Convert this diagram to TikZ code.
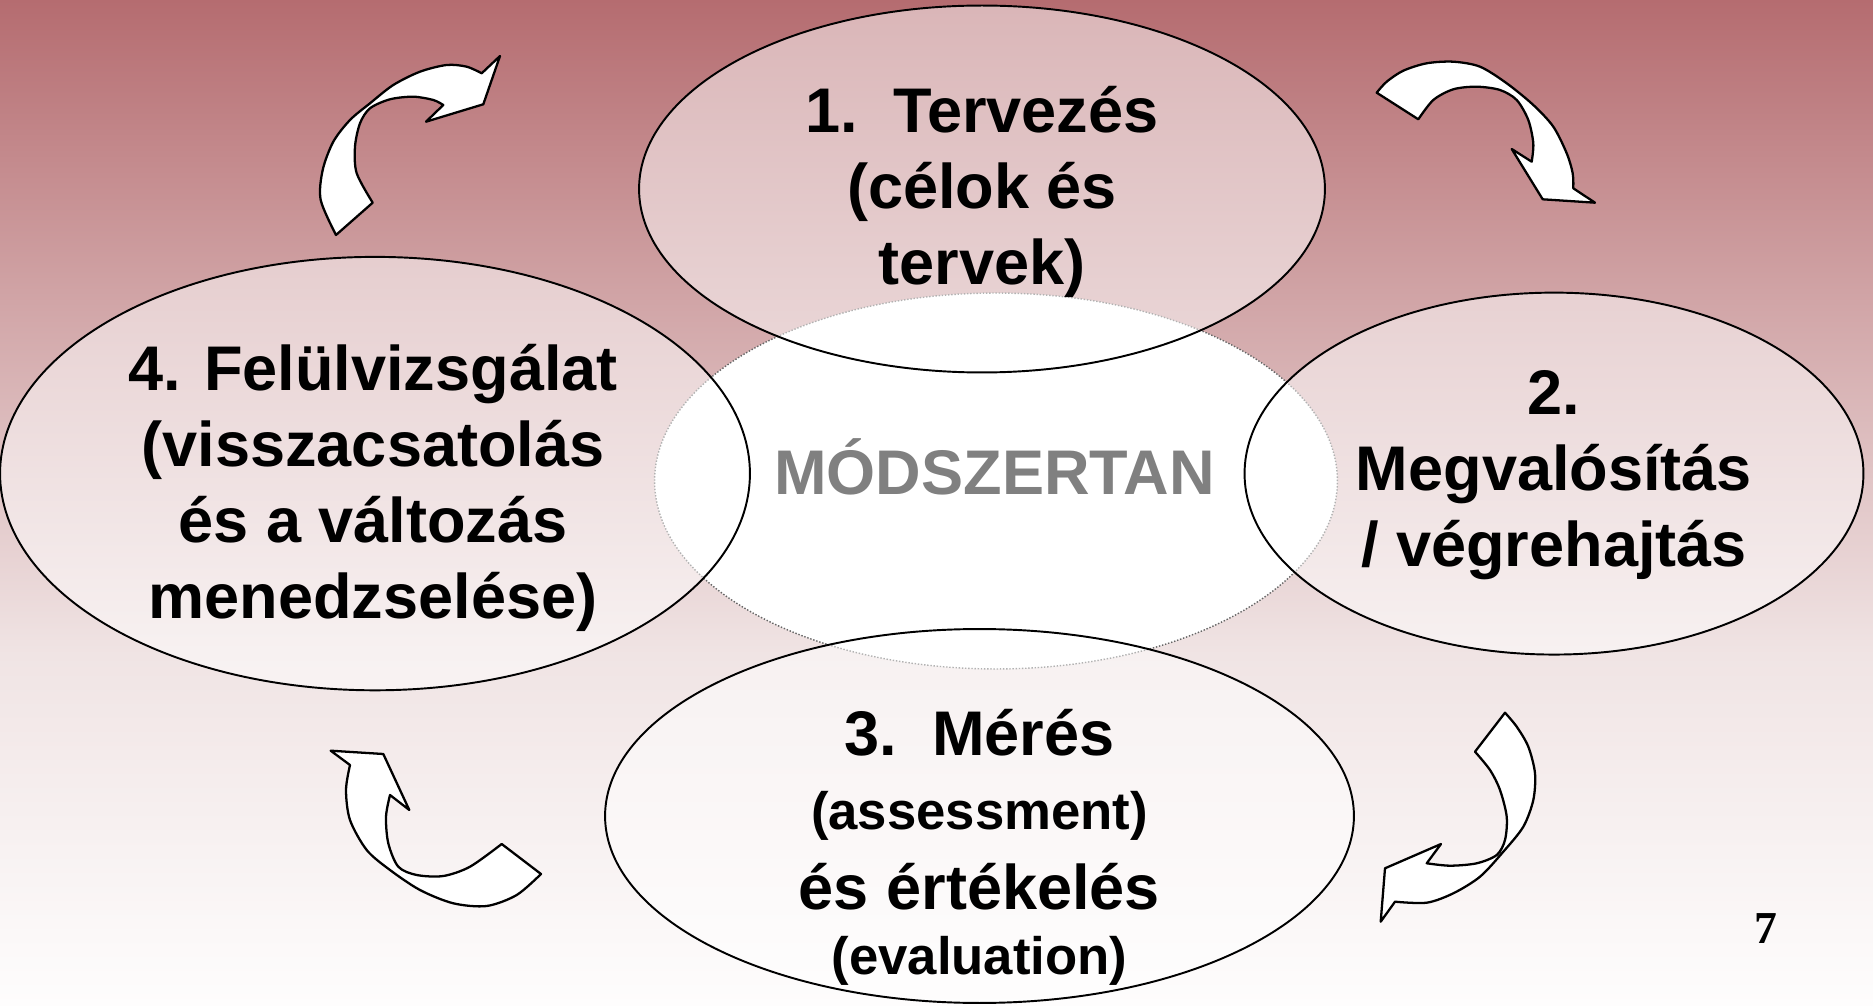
\documentclass[tikz,border=0pt]{standalone}
\usepackage{fontspec}
\setmainfont{Liberation Sans}
\newfontfamily\pagenumfont{Liberation Serif}
\usepackage{xcolor}
\usepackage{tikz}
\usetikzlibrary{shapes.geometric, positioning}

\definecolor{bgtop}{RGB}{181,108,112}
\definecolor{bgmid}{RGB}{209,165,167}
\definecolor{bglow}{RGB}{240,228,228}
\definecolor{bgend}{RGB}{254,253,253}
\definecolor{coregray}{RGB}{128,128,128}
\pgfdeclareverticalshading{slidebg}{100bp}{color(0bp)=(bgend); color(25bp)=(bgend); color(42.5bp)=(bglow); color(60bp)=(bgmid); color(75bp)=(bgtop); color(100bp)=(bgtop)}

\begin{document}
\begin{tikzpicture}[
    x=0.02cm, y=-0.02cm,
    phase/.style={ellipse, draw=black, line width=1.1pt, fill=white, fill opacity=0.5, draw opacity=1, inner sep=0pt},
    core/.style={ellipse, draw=black!60, densely dotted, line width=0.8pt, fill=white, inner sep=0pt},
    phasetext/.style={align=center, font=\fontsize{35.9pt}{43.25pt}\selectfont\bfseries},
    bendarrow/.style={fill=white, draw=black, line width=1.3pt, line join=round}
]
    % background
    \useasboundingbox (0,0) rectangle (1873,1006);
    \fill[shading=slidebg] (0,0) rectangle (1873,1006);

    % centre
    \node[core, minimum width=13.66cm, minimum height=7.52cm] (core) at (996,481) {};
    \node[anchor=base, text=coregray, font=\fontsize{35.9pt}{43.25pt}\selectfont\bfseries] (coretext) at (994.5,494.5) {MÓDSZERTAN};

    % the four phases
    \node[phase, minimum width=13.72cm, minimum height=7.34cm] (plan) at (982,189) {};
    \node[phase, minimum width=12.38cm, minimum height=7.24cm] (impl) at (1554,473.6) {};
    \node[phase, minimum width=14.98cm, minimum height=7.48cm] (meas) at (979.5,816) {};
    \node[phase, minimum width=15.0cm, minimum height=8.67cm] (review) at (375,473.6) {};

    \node[phasetext] (plantext) at (982,192) {1.\ \ Tervezés\\(célok és\\tervek)};
    \node[phasetext] (impltext) at (1554,475) {2.\\Megvalósítás\\/ végrehajtás};
    \node[phasetext] (meastext) at (979.5,847) {3.\ \ Mérés\\[-0.04cm]{\fontsize{30pt}{36pt}\selectfont (assessment)}\\[0.08cm]és értékelés\\[-0.22cm]{\fontsize{30pt}{36pt}\selectfont (evaluation)}};
    \node[phasetext] (reviewtext) at (373,488) {4. Felülvizsgálat\\(visszacsatolás\\és a változás\\menedzselése)};

    % curved arrows
    \filldraw[bendarrow] plot[smooth] coordinates {(336,235) (320.7,200) (322.7,170) (333.3,141.7) (350,120) (370,103.3) (393.3,85) (420,71.7) (446.7,65) (466.7,66.7) (481.7,73.3)}
        -- (500,56) -- (483.3,104.3) -- (426,121.7)
        -- plot[smooth] coordinates {(443.3,105) (433.3,100) (413.3,96.7) (390,99.3) (370,108.3) (360,123.3) (355,146.7) (356.7,173.3) (372.7,202.7)} -- cycle;
    \filldraw[bendarrow] plot[smooth] coordinates {(1376.7,92.7) (1386.7,81.7) (1403.3,70.7) (1426.7,63.3) (1453.3,61.7) (1480,66.7) (1506.7,83.3) (1533.3,105) (1553.3,126.7) (1566.7,153.3) (1572.7,173.3) (1573.3,188.3)}
        -- (1595,202.7) -- (1542.7,199.3) -- (1511.7,149)
        -- plot[smooth] coordinates {(1531.7,161.7) (1533.3,143.3) (1528.3,120) (1516.7,100) (1500,90) (1476.7,86.7) (1453.3,89.3) (1433.3,100) (1418.3,119.3)} -- cycle;
    \filldraw[bendarrow] plot[smooth] coordinates {(1505,712.7) (1516.7,726.7) (1528.3,746.7) (1535,773.3) (1533.3,800) (1523.3,826.7) (1503.3,851.7) (1480,876.7) (1453.3,893.3) (1426.7,902.7) (1395,901.7)}
        -- (1380.7,921.7) -- (1385,868.3) -- (1441,844)
        -- plot[smooth] coordinates {(1426.7,863.3) (1450,865.7) (1476.7,863.3) (1496.7,855) (1505,840) (1506.7,816.7) (1500,790) (1490,770) (1475,751.7)} -- cycle;
    \filldraw[bendarrow] (350,765) -- (330.7,750.7) -- (383.3,754) -- (409.3,810)
        -- plot[smooth] coordinates {(390,795) (386,816.7) (388.3,843.3) (398.3,866.7) (416.7,875) (443.3,876) (470,866.7) (501.7,844)}
        -- plot[smooth] coordinates {(541,874) (516.7,895) (486.7,906) (453.3,903.3) (420,890) (390,870) (366.7,850) (350,820) (346,790) (350,765)} -- cycle;

    % page number
    \node[font=\pagenumfont\fontsize{26pt}{30pt}\selectfont\bfseries] (pagenum) at (1765.5,929) {7};
\end{tikzpicture}
\end{document}
